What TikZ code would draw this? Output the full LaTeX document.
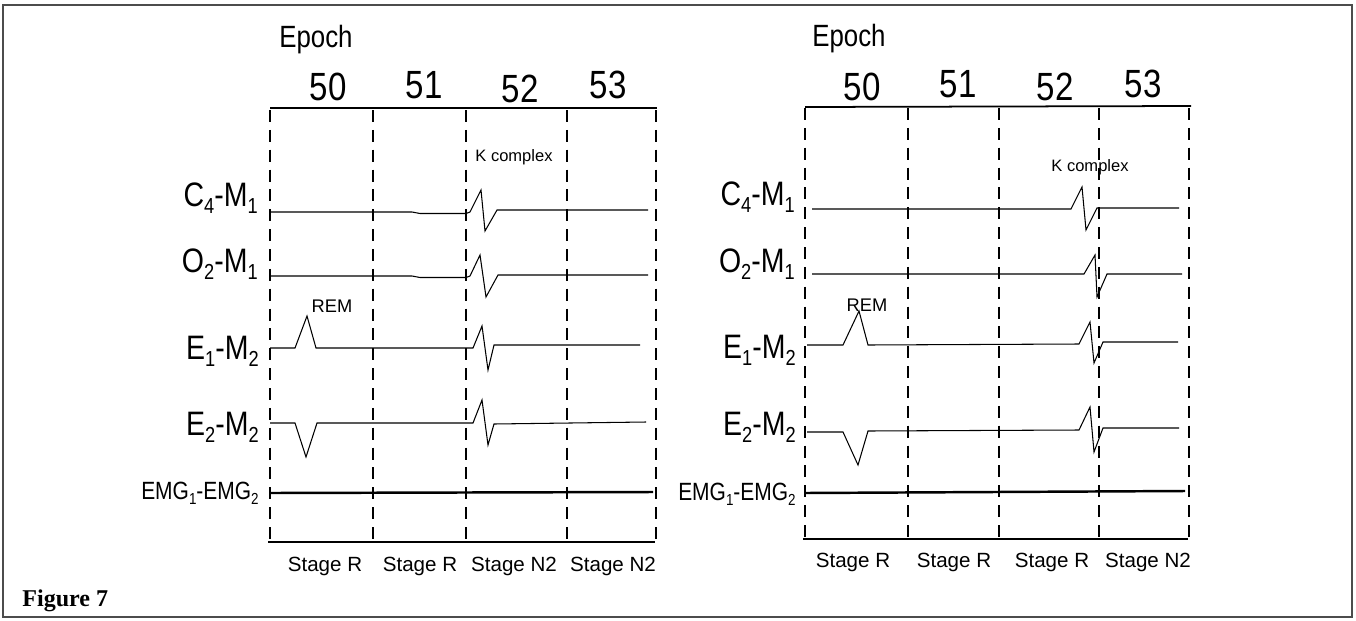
\documentclass[tikz,border=0pt]{standalone}
\usepackage{fontspec}
\usepackage{tikz}
\setmainfont{Liberation Sans}
\newfontfamily\FigureNarrow{Liberation Sans}[FakeStretch=0.84]
\newfontfamily\FigureSerif{Liberation Serif}
\newcommand{\FigureSub}[1]{\raisebox{-0.42ex}{\scalebox{0.64}{#1}}}
\newcommand{\FigureLead}[4]{#1\FigureSub{#2}-#3\FigureSub{#4}}

\begin{document}
\begin{tikzpicture}[
  x=0.2mm,y=-0.2mm,
  epoch/.style={font=\FigureNarrow\fontsize{17.5}{20}\selectfont,anchor=base west,inner sep=0pt},
  number/.style={font=\FigureNarrow\fontsize{22.4}{24}\selectfont,anchor=base,inner sep=0pt},
  lead/.style={font=\FigureNarrow\fontsize{19.3}{22}\selectfont,anchor=base east,inner sep=0pt},
  emglead/.style={font=\FigureNarrow\fontsize{14.2}{16}\selectfont,anchor=base east,inner sep=0pt},
  stage/.style={font=\fontsize{11.7}{14}\selectfont,anchor=base,inner sep=0pt},
  event/.style={font=\fontsize{10.4}{12}\selectfont,anchor=base,inner sep=0pt},
  divider/.style={line width=1.1pt,dash pattern=on 6.8pt off 4.5pt},
  axis/.style={line width=1pt},
  trace/.style={line width=0.6pt,line join=miter},
  emgtrace/.style={line width=1.4pt},
]
  \useasboundingbox (0,0) rectangle (1356,620);
  \draw[black!70,line width=0.6pt] (3,5) rectangle (1352,617);

  \node[font=\FigureSerif\bfseries\fontsize{13.7}{16}\selectfont,anchor=base west,inner sep=0pt] (caption) at (22,606) {Figure 7};

  \node[epoch] (leftEpoch) at (279,47) {Epoch};
  \node[number] (left50) at (328,100) {50};
  \node[number] (left51) at (424,98) {51};
  \node[number] (left52) at (520,102) {52};
  \node[number] (left53) at (608,98) {53};

  \draw[axis] (270,108) -- (657,108);
  \draw[axis] (268,542) -- (655,542);
  \draw[divider] (270,110) -- (270,540) (373,110) -- (373,540) (466,110) -- (466,540)
    (567,110) -- (567,540) (656,110) -- (656,540);

  \node[lead] (leftC4) at (258,206) {\FigureLead{C}{4}{M}{1}};
  \node[lead] (leftO2) at (258,272) {\FigureLead{O}{2}{M}{1}};
  \node[lead] (leftE1) at (259,359) {\FigureLead{E}{1}{M}{2}};
  \node[lead] (leftE2) at (259,435) {\FigureLead{E}{2}{M}{2}};
  \node[emglead] (leftEMG) at (259,499) {\FigureLead{EMG}{1}{EMG}{2}};

  \node[event,font=\fontsize{9.4}{11}\selectfont] (leftK) at (514,161) {K complex};
  \node[event] (leftREM) at (332,312) {REM};

  \draw[trace] (271,212) -- (412,212) -- (420,213.5) -- (466,213.5) -- (470,212) -- (481,190) -- (485,231) -- (497,210) -- (648,210);
  \draw[trace] (271,276) -- (412,276) -- (420,277.5) -- (466,277.5) -- (470,276) -- (480,255) -- (486,297) -- (498,275) -- (648,275);
  \draw[trace] (270,348) -- (295,348) -- (307,316) -- (316,348) -- (473,348) -- (482,326) -- (488,370) -- (494,345) -- (640,345);
  \draw[trace] (270,423) -- (295,423) -- (306,457) -- (317,423) -- (473,423) -- (482,400) -- (488,445) -- (494,424) -- (646,422);
  \draw[emgtrace] (270,493) -- (653,492);

  \node[stage] (leftStage50) at (325,571) {Stage R};
  \node[stage] (leftStage51) at (420,571) {Stage R};
  \node[stage] (leftStage52) at (514,571) {Stage N2};
  \node[stage] (leftStage53) at (613,571) {Stage N2};

  \node[epoch] (rightEpoch) at (812,46) {Epoch};
  \node[number] (right50) at (862,100) {50};
  \node[number] (right51) at (958,97) {51};
  \node[number] (right52) at (1055,100) {52};
  \node[number] (right53) at (1143,97) {53};

  \draw[axis] (805,107) -- (1191,106);
  \draw[axis] (803,539) -- (1188,539);
  \draw[divider] (805,108) -- (805,537) (908,108) -- (908,537) (999,108) -- (999,537)
    (1099,108) -- (1099,537) (1189,108) -- (1189,537);

  \node[lead] (rightC4) at (795,205) {\FigureLead{C}{4}{M}{1}};
  \node[lead] (rightO2) at (795,272) {\FigureLead{O}{2}{M}{1}};
  \node[lead] (rightE1) at (796,358) {\FigureLead{E}{1}{M}{2}};
  \node[lead] (rightE2) at (796,435) {\FigureLead{E}{2}{M}{2}};
  \node[emglead] (rightEMG) at (796,500) {\FigureLead{EMG}{1}{EMG}{2}};

  \node[event,font=\fontsize{9.4}{11}\selectfont] (rightK) at (1090,171) {K complex};
  \node[event] (rightREM) at (867,311) {REM};

  \draw[trace] (812,209) -- (1071,209) -- (1082,187) -- (1086,230) -- (1097,208) -- (1179,208);
  \draw[trace] (812,274) -- (1084,274) -- (1095,255) -- (1097,297) -- (1107,274) -- (1182,274);
  \draw[trace] (807,345) -- (843,345) -- (859,311) -- (868,345) -- (1079,344) -- (1090,322) -- (1094,363) -- (1103,342) -- (1178,342);
  \draw[trace] (807,432) -- (843,432) -- (858,465) -- (868,431) -- (1079,430) -- (1090,407) -- (1094,452) -- (1103,428) -- (1179,428);
  \draw[emgtrace] (805,493) -- (1185,491);

  \node[stage] (rightStage50) at (853,567) {Stage R};
  \node[stage] (rightStage51) at (954,567) {Stage R};
  \node[stage] (rightStage52) at (1052,567) {Stage R};
  \node[stage] (rightStage53) at (1148,567) {Stage N2};
\end{tikzpicture}
\end{document}
